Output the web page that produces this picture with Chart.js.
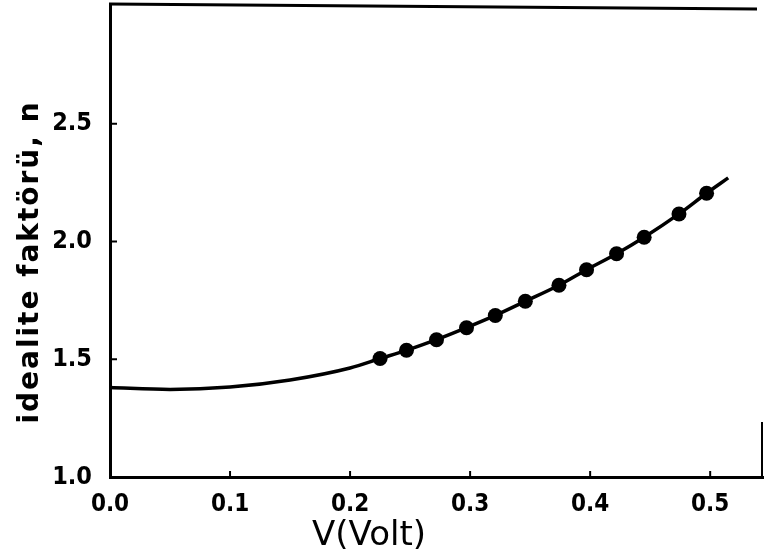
<!DOCTYPE html>
<html>
<head>
<meta charset="utf-8">
<script src="https://cdn.jsdelivr.net/npm/chart.js@4/dist/chart.umd.min.js"></script>
<style>
  html, body { margin: 0; padding: 0; background: #fff; }
  #wrap { width: 764px; height: 554px; }
</style>
</head>
<body>
<div id="wrap"><canvas id="c" width="764" height="554"></canvas></div>
<script>
// Measured ideality factor n against bias voltage V
const voltage = [0.225, 0.247, 0.272, 0.297, 0.321, 0.346, 0.374, 0.397, 0.422, 0.445, 0.474, 0.497];
const idealityN = [1.503, 1.538, 1.583, 1.634, 1.686, 1.746, 1.814, 1.880, 1.948, 2.018, 2.117, 2.205];

// Smooth fitted curve drawn through the measurements
const curveV = [0.0, 0.05, 0.1, 0.15, 0.2, 0.225, 0.247, 0.272, 0.297, 0.321, 0.346, 0.374, 0.397, 0.422, 0.445, 0.474, 0.497, 0.515];
const curveN = [1.380, 1.372, 1.382, 1.412, 1.463, 1.503, 1.538, 1.583, 1.634, 1.686, 1.746, 1.814, 1.880, 1.948, 2.018, 2.117, 2.205, 2.270];

// Axis ticks
const xTicks = [0.0, 0.1, 0.2, 0.3, 0.4, 0.5];
const yTicks = [1.0, 1.5, 2.0, 2.5];
const xTitle = 'V(Volt)';
const yTitle = 'idealite faktörü, n';

const tickFont = { family: "'DejaVu Sans Condensed', 'DejaVu Sans', sans-serif", size: 24, weight: 'bold' };

// Frame pieces, inward tick marks and the axis captions
const framePlugin = {
  id: 'frame',
  afterDraw(chart) {
    const { ctx, chartArea: a, scales } = chart;
    ctx.save();
    ctx.strokeStyle = '#000';
    ctx.lineWidth = 3;
    ctx.lineCap = 'butt';
    // top edge
    ctx.beginPath();
    ctx.moveTo(a.left - 1, a.top - 2);
    ctx.lineTo(a.right - 6, a.top + 3);
    ctx.stroke();
    // short piece of the right edge
    ctx.lineWidth = 2;
    ctx.beginPath();
    ctx.moveTo(a.right - 1, a.bottom - 55);
    ctx.lineTo(a.right - 1, a.bottom);
    ctx.stroke();
    // inward ticks
    ctx.lineWidth = 2;
    xTicks.forEach(v => {
      if (v === 0) return;
      const x = scales.x.getPixelForValue(v);
      ctx.beginPath();
      ctx.moveTo(x, a.bottom);
      ctx.lineTo(x, a.bottom - 6);
      ctx.stroke();
    });
    yTicks.forEach(v => {
      if (v === 1.0) return;
      const y = scales.y.getPixelForValue(v);
      ctx.beginPath();
      ctx.moveTo(a.left, y);
      ctx.lineTo(a.left + 7, y);
      ctx.stroke();
    });
    ctx.fillStyle = '#000';
    // x-axis caption
    ctx.font = "34px 'DejaVu Sans', sans-serif";
    ctx.textAlign = 'center';
    ctx.textBaseline = 'alphabetic';
    ctx.fillText(xTitle, 369, 545);
    // y-axis caption, rotated
    ctx.translate(38, 262);
    ctx.rotate(-Math.PI / 2);
    ctx.font = "bold 28px 'DejaVu Sans', sans-serif";
    if ('letterSpacing' in ctx) ctx.letterSpacing = '2px';
    ctx.fillText(yTitle, 0, 0);
    ctx.restore();
  }
};

new Chart(document.getElementById('c'), {
  type: 'line',
  data: {
    datasets: [
      {
        label: 'fit',
        data: curveV.map((v, i) => ({ x: v, y: curveN[i] })),
        borderColor: '#000',
        borderWidth: 3.5,
        pointRadius: 0,
        cubicInterpolationMode: 'monotone',
        fill: false
      },
      {
        label: 'n',
        data: voltage.map((v, i) => ({ x: v, y: idealityN[i] })),
        showLine: false,
        pointRadius: 7.5,
        pointBackgroundColor: '#000',
        pointBorderColor: '#000',
        pointBorderWidth: 0
      }
    ]
  },
  plugins: [framePlugin],
  options: {
    responsive: false,
    animation: false,
    layout: { autoPadding: false, padding: { top: 6, right: 1, left: 0, bottom: 0 } },
    plugins: { legend: { display: false }, tooltip: { enabled: false } },
    scales: {
      x: {
        type: 'linear',
        min: 0,
        max: 0.544,
        afterBuildTicks(scale) { scale.ticks = xTicks.map(v => ({ value: v })); },
        afterFit(scale) {
          scale.height = 77;
          scale.paddingLeft = 0;
          scale.paddingRight = 0;
        },
        grid: { display: false, drawTicks: false },
        border: { display: true, color: '#000', width: 3 },
        ticks: {
          color: '#000',
          font: tickFont,
          padding: 13,
          maxRotation: 0,
          callback: v => v.toFixed(1)
        }
      },
      y: {
        type: 'linear',
        min: 1.0,
        max: 3.0,
        afterBuildTicks(scale) { scale.ticks = yTicks.map(v => ({ value: v })); },
        afterFit(scale) {
          scale.width = 110;
          scale.paddingTop = 0;
          scale.paddingBottom = 0;
        },
        grid: { display: false, drawTicks: false },
        border: { display: true, color: '#000', width: 3 },
        ticks: {
          color: '#000',
          font: { ...tickFont, size: 25 },
          padding: 18,
          callback: v => v.toFixed(1)
        }
      }
    }
  }
});
</script>
</body>
</html>
